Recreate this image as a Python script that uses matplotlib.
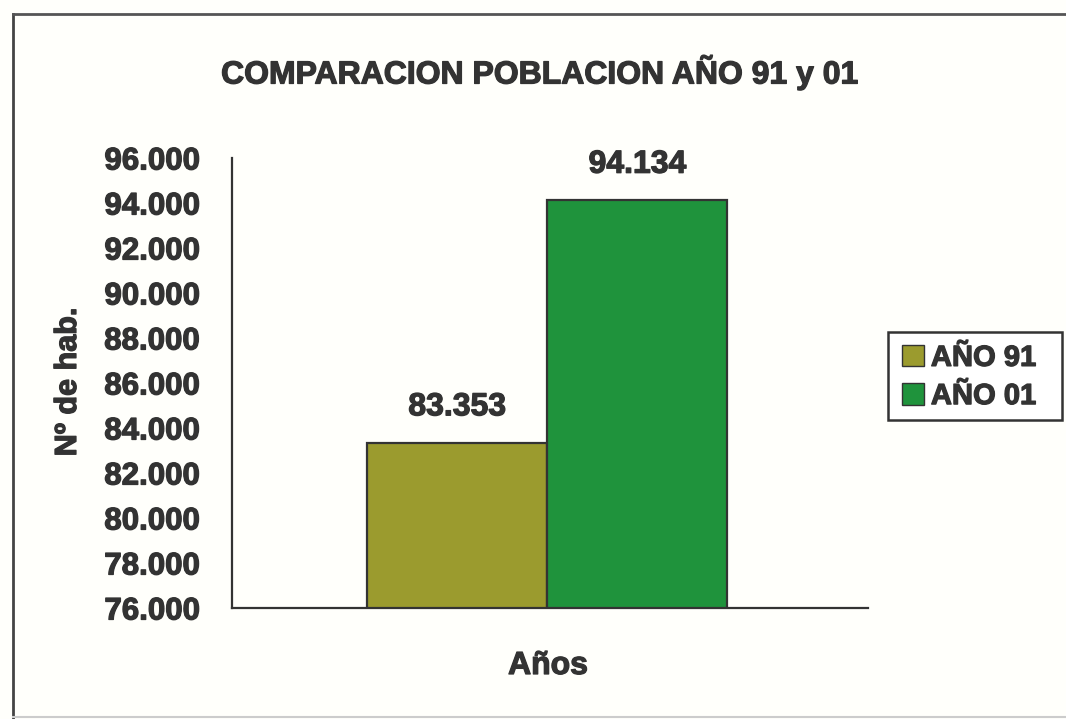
import matplotlib.pyplot as plt
import matplotlib.patheffects as pe
from matplotlib.lines import Line2D
from matplotlib.patches import Patch, Rectangle
import matplotlib.ticker as mticker

# Data
series_labels = ['AÑO 91', 'AÑO 01']
population = [83353, 94134]
bar_colors = ['#9b9b2e', '#1f933c']
y_ticks = list(range(76000, 96001, 2000))

plt.rcParams['font.family'] = ['Liberation Sans', 'DejaVu Sans']
plt.rcParams['font.weight'] = 'bold'

TXT = '#333333'
heavy = [pe.withStroke(linewidth=0.9, foreground=TXT)]

W, H = 1066, 719
fig = plt.figure(figsize=(W / 100, H / 100), dpi=100)
fig.patch.set_facecolor('#fffffb')

# outer chart frame
fig.add_artist(Line2D([13 / W, 13 / W], [0, 1 - 14 / H], transform=fig.transFigure, color='#444444', lw=2))
fig.add_artist(Line2D([13 / W, 1], [1 - 14 / H, 1 - 14 / H], transform=fig.transFigure, color='#555555', lw=2))
fig.add_artist(Line2D([13 / W, 1], [2 / H, 2 / H], transform=fig.transFigure, color='#cccccc', lw=1.5))

ax = fig.add_axes([232 / W, 1 - 608 / H, 636 / W, 450 / H])
ax.set_facecolor('none')

positions = [-0.5, 0.5]
ax.bar(positions, population, width=1.0, color=bar_colors,
       edgecolor=TXT, linewidth=1.6, zorder=2)
for x, v in zip(positions, population):
    ax.text(x, v + 900, f'{v:,}'.replace(',', '.'), ha='center', va='bottom',
            fontsize=23, fontweight='bold', color=TXT, path_effects=heavy)

ax.set_xlim(-1.75, 1.78)
ax.set_ylim(76000, 96000)
ax.set_yticks(y_ticks)
ax.yaxis.set_major_formatter(mticker.FuncFormatter(lambda v, p: f'{int(v):,}'.replace(',', '.')))
ax.set_xticks([])
ax.tick_params(axis='y', length=0, pad=23, labelsize=22.5, labelcolor=TXT)
for lab in ax.get_yticklabels():
    lab.set_fontweight('bold')
    lab.set_path_effects(heavy)

for s in ['top', 'right']:
    ax.spines[s].set_visible(False)
for s in ['left', 'bottom']:
    ax.spines[s].set_color(TXT)
    ax.spines[s].set_linewidth(1.6)

fig.text(68 / W, 1 - 382 / H, 'Nº de hab.', rotation=90, ha='center', va='center',
         fontsize=22, fontweight='bold', color=TXT, path_effects=heavy)
fig.text(548 / W, 1 - 666 / H, 'Años', ha='center', va='center',
         fontsize=23, fontweight='bold', color=TXT, path_effects=heavy)
fig.text(540 / W, 1 - 73 / H, 'COMPARACION POBLACION AÑO 91 y 01', ha='center', va='center',
         fontsize=23, fontweight='bold', color=TXT, path_effects=heavy)

# legend box drawn separately (wider padding than matplotlib's frame)
fig.add_artist(Rectangle((888 / W, 1 - 420 / H), 174 / W, 88 / H, transform=fig.transFigure,
                         facecolor='white', edgecolor=TXT, linewidth=1.8))
handles = [Patch(facecolor=c, edgecolor=TXT, label=l) for c, l in zip(bar_colors, series_labels)]
leg = fig.legend(handles=handles, loc='center', bbox_to_anchor=(969 / W, 1 - 377 / H),
                 fontsize=21, frameon=False, handlelength=0.75, handleheight=0.75,
                 handletextpad=0.25, labelspacing=0.35, borderpad=0.0, borderaxespad=0)
for t in leg.get_texts():
    t.set_fontweight('bold')
    t.set_color(TXT)
    t.set_path_effects(heavy)

fig.savefig('out.png', dpi=100, facecolor=fig.get_facecolor())
